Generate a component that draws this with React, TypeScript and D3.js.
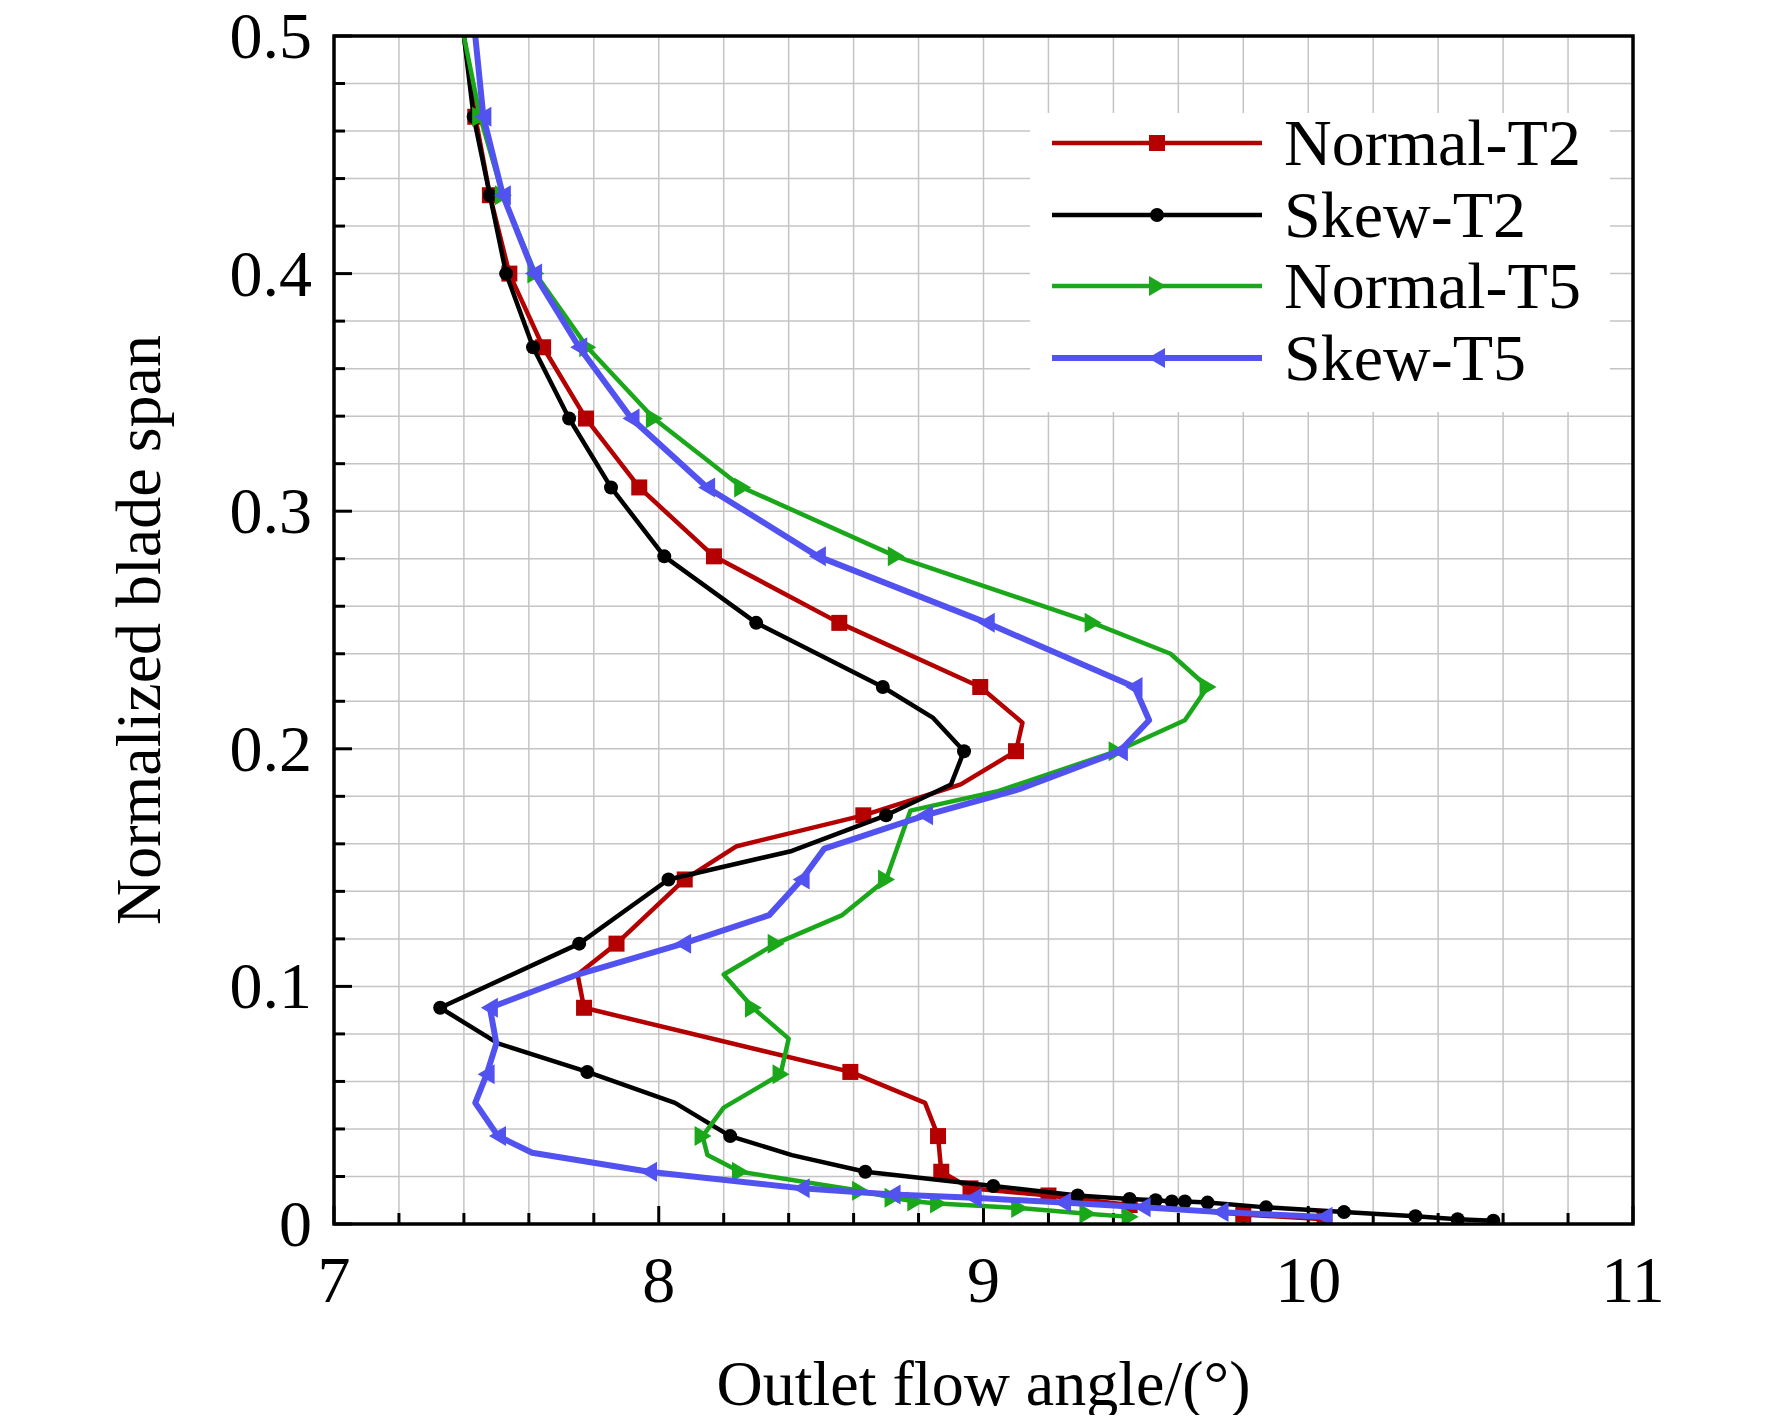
import * as d3 from "d3"

type Pt = [number, number]

const xTicks = [7, 8, 9, 10, 11]
const yTicks = [0, 0.1, 0.2, 0.3, 0.4, 0.5]

// [angle, span, hasMarker]
const normalT2: [number, number, number][] = [
  [7.4, 0.5, 0], [7.435, 0.466, 1], [7.48, 0.433, 1], [7.54, 0.4, 1], [7.644, 0.369, 1],
  [7.776, 0.339, 1], [7.94, 0.31, 1], [8.17, 0.281, 1], [8.556, 0.253, 1], [8.99, 0.226, 1],
  [9.12, 0.211, 0], [9.1, 0.199, 1], [8.93, 0.185, 0], [8.63, 0.172, 1], [8.24, 0.159, 0],
  [8.08, 0.145, 1], [7.87, 0.118, 1], [7.75, 0.105, 0], [7.77, 0.091, 1], [8.59, 0.064, 1],
  [8.82, 0.051, 0], [8.86, 0.037, 1], [8.87, 0.022, 1], [8.96, 0.015, 1], [9.2, 0.012, 1],
  [9.45, 0.008, 1], [9.8, 0.004, 1], [10.05, 0.002, 1],
]
const skewT2: [number, number, number][] = [
  [7.4, 0.5, 0], [7.43, 0.466, 1], [7.48, 0.433, 1], [7.53, 0.4, 1], [7.613, 0.369, 1],
  [7.724, 0.339, 1], [7.853, 0.31, 1], [8.017, 0.281, 1], [8.3, 0.253, 1], [8.69, 0.226, 1],
  [8.845, 0.213, 0], [8.94, 0.199, 1], [8.9, 0.185, 0], [8.7, 0.172, 1], [8.41, 0.157, 0],
  [8.03, 0.145, 1], [7.755, 0.118, 1], [7.327, 0.091, 1], [7.505, 0.076, 0], [7.78, 0.064, 1],
  [8.05, 0.051, 0], [8.22, 0.037, 1], [8.41, 0.029, 0], [8.636, 0.022, 1], [9.03, 0.016, 1],
  [9.29, 0.012, 1], [9.45, 0.0105, 1], [9.53, 0.01, 1], [9.58, 0.0095, 1], [9.62, 0.0095, 1],
  [9.69, 0.009, 1], [9.87, 0.007, 1], [10.11, 0.005, 1], [10.33, 0.0033, 1], [10.46, 0.002, 1],
  [10.57, 0.0014, 1],
]
const normalT5: [number, number, number][] = [
  [7.4, 0.5, 0], [7.45, 0.466, 1], [7.52, 0.433, 1], [7.62, 0.4, 1], [7.78, 0.369, 1],
  [7.985, 0.339, 1], [8.257, 0.31, 1], [8.73, 0.281, 1], [9.336, 0.253, 1], [9.576, 0.24, 0],
  [9.69, 0.226, 1], [9.62, 0.212, 0], [9.41, 0.199, 1], [9.04, 0.182, 0], [8.775, 0.174, 0],
  [8.7, 0.145, 1], [8.565, 0.13, 0], [8.36, 0.118, 1], [8.2, 0.105, 0], [8.29, 0.091, 1],
  [8.4, 0.078, 0], [8.375, 0.063, 1], [8.2, 0.049, 0], [8.135, 0.037, 1], [8.15, 0.029, 0],
  [8.25, 0.022, 1], [8.62, 0.014, 1], [8.72, 0.011, 1], [8.79, 0.0095, 1], [8.86, 0.0086, 1],
  [9.11, 0.0067, 1], [9.32, 0.0043, 1], [9.45, 0.003, 1],
]
const skewT5: [number, number, number][] = [
  [7.435, 0.5, 0], [7.46, 0.466, 1], [7.52, 0.433, 1], [7.616, 0.4, 1], [7.755, 0.369, 1],
  [7.916, 0.339, 1], [8.149, 0.31, 1], [8.49, 0.281, 1], [9.01, 0.253, 1], [9.465, 0.226, 1],
  [9.51, 0.212, 0], [9.42, 0.199, 1], [9.11, 0.183, 0], [8.82, 0.172, 1], [8.51, 0.158, 0],
  [8.44, 0.145, 1], [8.34, 0.13, 0], [8.075, 0.118, 1], [7.75, 0.105, 0], [7.48, 0.091, 1],
  [7.5, 0.076, 0], [7.47, 0.063, 1], [7.435, 0.051, 0], [7.505, 0.037, 1], [7.61, 0.03, 0],
  [7.97, 0.022, 1], [8.44, 0.015, 1], [8.72, 0.0124, 1], [8.97, 0.011, 1], [9.245, 0.009, 1],
  [9.49, 0.007, 1], [9.73, 0.005, 1], [10.05, 0.003, 1],
]

const series = [
  { name: "Normal-T2", data: normalT2, color: "#b40000", marker: "square", width: 4.5 },
  { name: "Skew-T2", data: skewT2, color: "#000000", marker: "circle", width: 4.5 },
  { name: "Normal-T5", data: normalT5, color: "#1aa81a", marker: "right", width: 4.5 },
  { name: "Skew-T5", data: skewT5, color: "#5252f0", marker: "left", width: 6 },
]

const W = 1772
const H = 1423
const m = { left: 334, right: 1633, top: 36, bottom: 1224 }

const x = d3.scaleLinear().domain([7, 11]).range([m.left, m.right])
const y = d3.scaleLinear().domain([0, 0.5]).range([m.bottom, m.top])

const Marker = ({ kind, cx, cy, color }: { kind: string; cx: number; cy: number; color: string }) => {
  if (kind === "square") return <rect x={cx - 8} y={cy - 8} width={16} height={16} fill={color} />
  if (kind === "circle") return <circle cx={cx} cy={cy} r={7} fill={color} />
  const s = kind === "right" ? 1 : -1
  return <path d={`M${cx + s * 9},${cy} L${cx - s * 8},${cy - 10} L${cx - s * 8},${cy + 10} Z`} fill={color} />
}

export default function App() {
  const line = d3.line<Pt>().x(d => x(d[0])).y(d => y(d[1]))
  const xMinor = d3.range(7, 11.001, 0.2)
  const yMinor = d3.range(0, 0.5001, 0.02)
  const font = "'Liberation Serif', 'Times New Roman', serif"
  const legendRows = [143, 215, 286, 358]

  return (
    <div style={{ margin: -8 }}>
      <svg width={W} height={H} style={{ display: "block", background: "#fff" }} fontFamily={font}>
        <defs>
          <clipPath id="plot">
            <rect x={m.left} y={m.top} width={m.right - m.left} height={m.bottom - m.top} />
          </clipPath>
        </defs>
        {/* grid */}
        {xMinor.map((v, i) => (
          <line key={"gx" + i} x1={x(v)} x2={x(v)} y1={m.top} y2={m.bottom} stroke="#c4c4c4" strokeWidth={1.5} />
        ))}
        {yMinor.map((v, i) => (
          <line key={"gy" + i} x1={m.left} x2={m.right} y1={y(v)} y2={y(v)} stroke="#c4c4c4" strokeWidth={1.5} />
        ))}
        {/* legend background */}
        <rect x={1030} y={113} width={580} height={299} fill="#fff" />
        {/* ticks */}
        {xMinor.map((v, i) => {
          const major = Math.abs(v - Math.round(v)) < 1e-6
          return <line key={"tx" + i} x1={x(v)} x2={x(v)} y1={m.bottom} y2={m.bottom - (major ? 18 : 11)} stroke="#000" strokeWidth={3} />
        })}
        {yMinor.map((v, i) => {
          const major = Math.abs(v * 10 - Math.round(v * 10)) < 1e-6
          return <line key={"ty" + i} x1={m.left} x2={m.left + (major ? 18 : 11)} y1={y(v)} y2={y(v)} stroke="#000" strokeWidth={3} />
        })}
        {/* series */}
        <g clipPath="url(#plot)">
          {series.map(s => (
            <g key={s.name}>
              <path d={line(s.data.map(d => [d[0], d[1]] as Pt)) || ""} fill="none" stroke={s.color} strokeWidth={s.width} strokeLinejoin="round" />
              {s.data.filter(d => d[2]).map((d, i) => (
                <Marker key={i} kind={s.marker} cx={x(d[0])} cy={y(d[1])} color={s.color} />
              ))}
            </g>
          ))}
        </g>
        <rect x={m.left} y={m.top} width={m.right - m.left} height={m.bottom - m.top} fill="none" stroke="#000" strokeWidth={3.5} />
        {/* tick labels */}
        {xTicks.map(v => (
          <text key={"lx" + v} x={x(v)} y={m.bottom + 78} textAnchor="middle" fontSize={66}>{v}</text>
        ))}
        {yTicks.map(v => (
          <text key={"ly" + v} x={m.left - 22} y={y(v) + 22} textAnchor="end" fontSize={66}>{v === 0 ? "0" : v.toFixed(1)}</text>
        ))}
        <text x={(m.left + m.right) / 2} y={1405} textAnchor="middle" fontSize={64}>Outlet flow angle/(°)</text>
        <text transform={`translate(160,${(m.top + m.bottom) / 2}) rotate(-90)`} textAnchor="middle" fontSize={64}>Normalized blade span</text>
        {/* legend */}
        {series.map((s, i) => (
          <g key={"lg" + s.name}>
            <line x1={1052} x2={1262} y1={legendRows[i]} y2={legendRows[i]} stroke={s.color} strokeWidth={s.width} />
            <Marker kind={s.marker} cx={1157} cy={legendRows[i]} color={s.color} />
            <text x={1284} y={legendRows[i] + 22} fontSize={66}>{s.name}</text>
          </g>
        ))}
      </svg>
    </div>
  )
}
